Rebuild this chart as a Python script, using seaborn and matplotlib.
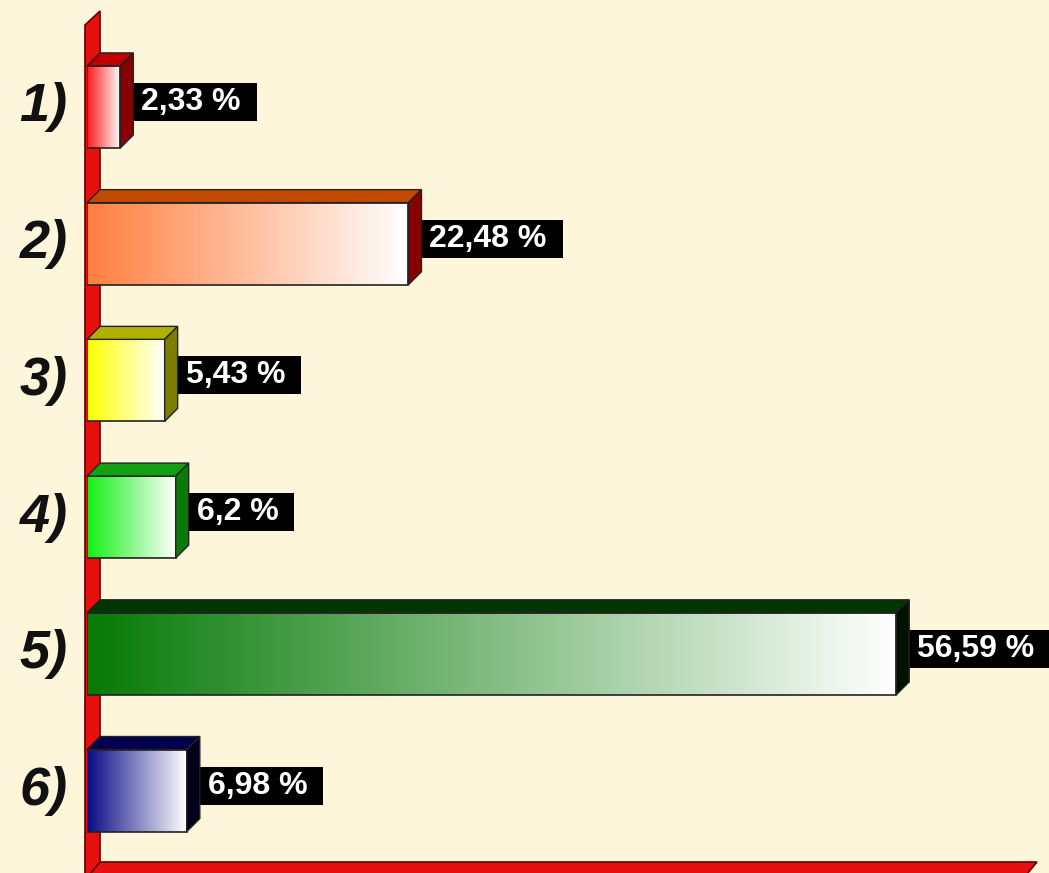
import numpy as np
import matplotlib
matplotlib.use("Agg")
import matplotlib.pyplot as plt
import seaborn as sns
from matplotlib.patches import Polygon, Rectangle
from matplotlib.colors import LinearSegmentedColormap
from matplotlib.transforms import IdentityTransform, ScaledTranslation

# Datos
categorias = ["1)", "2)", "3)", "4)", "5)", "6)"]
valores = [2.33, 22.48, 5.43, 6.2, 56.59, 6.98]
etiquetas = ["2,33 %", "22,48 %", "5,43 %", "6,2 %", "56,59 %", "6,98 %"]

# Colores: frente (degradado a blanco), techo y lateral
colores = ["#ff1a1a", "#ff7f40", "#ffff00", "#11f011", "#077a07", "#0a0a85"]
colores_techo = ["#c00000", "#c24a00", "#b0b000", "#12a012", "#013501", "#00004e"]
colores_lado = ["#8a0000", "#880000", "#7d7d00", "#0a7a0a", "#001200", "#000018"]

FONDO = "#fef6da"
ROJO = "#e80f0f"
W, H = 1049, 873
PROF = 13  # profundidad 3D en pixeles

sns.set_style("white")
plt.rcParams["font.family"] = ["Liberation Sans", "DejaVu Sans"]

fig = plt.figure(figsize=(W / 100, H / 100), dpi=100, facecolor=FONDO)
ax = fig.add_axes([87 / W, 11 / H, (W - 87) / W, 862 / H])
ax.set_facecolor(FONDO)

sns.barplot(x=valores, y=categorias, hue=categorias, palette=colores, orient="h",
            width=0.6, legend=False, saturation=1, ax=ax)

barras = sorted(ax.patches, key=lambda p: p.get_y())

# Degradado horizontal en la cara frontal
for p, c in zip(barras, colores):
    bb = p.get_bbox()
    cmap = LinearSegmentedColormap.from_list("g", [c, "white"])
    ax.imshow(np.linspace(0, 1, 256).reshape(1, -1), cmap=cmap, aspect="auto",
              extent=[bb.x0, bb.x1, bb.y1, bb.y0], zorder=3, interpolation="bilinear")
    p.set_facecolor("none")
    p.set_edgecolor("#222222")
    p.set_linewidth(1.2)
    p.set_zorder(4)

ax.set_xlim(0, (W - 87) / 14.3)
ax.set_ylim(5 + 71.5 / 136.8, -107 / 136.8)

# Pared y suelo (coordenadas de pantalla)
def px(x, y):
    return (x, H - y)

pared = Polygon([px(85, 880), px(85, 25), px(100, 11), px(100, 880)], closed=True,
                facecolor=ROJO, edgecolor="#5a0000", lw=1.2, transform=IdentityTransform(),
                clip_on=False, zorder=1)
suelo = Polygon([px(85, 880), px(100, 862), px(1037, 862), px(1022, 880)], closed=True,
                facecolor=ROJO, edgecolor="#5a0000", lw=1.2, transform=IdentityTransform(),
                clip_on=False, zorder=1)
ax.add_patch(pared)
ax.add_patch(suelo)

# Caras superior y lateral
for p, ct, cl in zip(barras, colores_techo, colores_lado):
    bb = p.get_bbox()
    (X0, Ya), (X1, Yb) = ax.transData.transform([(bb.x0, bb.y0), (bb.x1, bb.y1)])
    YT, YB = max(Ya, Yb), min(Ya, Yb)
    techo = Polygon([(X0, YT), (X1, YT), (X1 + PROF, YT + PROF), (X0 + PROF, YT + PROF)],
                    closed=True, facecolor=ct, edgecolor="#222222", lw=1.0,
                    transform=IdentityTransform(), clip_on=False, zorder=4)
    lado = Polygon([(X1, YB), (X1, YT), (X1 + PROF, YT + PROF), (X1 + PROF, YB + PROF)],
                   closed=True, facecolor=cl, edgecolor="#222222", lw=1.0,
                   transform=IdentityTransform(), clip_on=False, zorder=4)
    ax.add_patch(techo)
    ax.add_patch(lado)

# Etiquetas de valor
textos = []
for p, v, et in zip(barras, valores, etiquetas):
    yc = p.get_y() + p.get_height() / 2
    t = ax.annotate(et, xy=(v, yc), xytext=(21 * 0.72, 5 * 0.72), textcoords="offset points",
                    ha="left", va="center", color="white", fontsize=23, fontweight="bold",
                    zorder=6, annotation_clip=False)
    textos.append(t)

# Eje y
ax.tick_params(axis="y", length=0, pad=14, labelsize=39)
ax.tick_params(axis="x", length=0, labelbottom=False)
ax.set_xlabel("")
ax.set_ylabel("")
for lab in ax.get_yticklabels():
    lab.set_fontstyle("italic")
    lab.set_fontweight("bold")
    lab.set_color("#111111")
    lab.set_transform(lab.get_transform() + ScaledTranslation(0, 0.05, fig.dpi_scale_trans))
sns.despine(ax=ax, left=True, bottom=True)

fig.canvas.draw()
render = fig.canvas.get_renderer()
for t in textos:
    bb = t.get_window_extent(render)
    yc = (bb.y0 + bb.y1) / 2
    caja = Rectangle((bb.x0 - 15, yc - 19), bb.width + 31, 38, facecolor="black",
                     edgecolor="none", transform=IdentityTransform(), clip_on=False, zorder=2)
    ax.add_patch(caja)

fig.savefig("out.png", dpi=100, facecolor=FONDO)
